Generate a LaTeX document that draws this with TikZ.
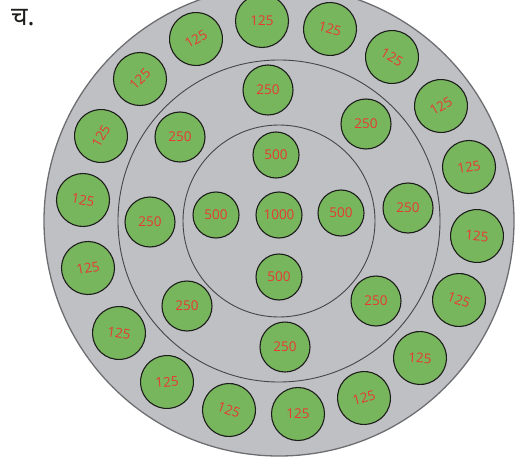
\documentclass[tikz,border=0pt]{standalone}
\usepackage{fontspec}
\setsansfont{Open Sans}
\newfontfamily\devfont[Script=Devanagari]{Noto Sans}
\usetikzlibrary{positioning}
\definecolor{colorplate} {RGB}{191,192,196}
\definecolor{colorrim}   {RGB}{110,110,114}
\definecolor{colorring}  {RGB}{70 ,70 ,74 }
\definecolor{colorcoin}  {RGB}{119,182,92 }
\definecolor{colorvalue} {RGB}{232,58 ,48 }
\definecolor{colortext}  {RGB}{29 ,29 ,27 }

\begin{document}
\begin{tikzpicture}[
    x=1pt, y=-1pt,
    base/.style={circle,draw=colortext,line width=1.1pt,fill=colorcoin,inner sep=0pt,
                 text=colorvalue,font={\sffamily\fontsize{13.5}{13.5}\selectfont}},
    outer/.style={base,minimum size=53pt},
    middle/.style={base,minimum size=50pt},
    inner/.style={base,minimum size=46pt},
    ringline/.style={draw=colorring,line width=0.9pt},
]
    \useasboundingbox (0,0) rectangle (521,465);
    \clip (0,0) rectangle (521,465);

    % Plate and rings
    \coordinate (centre) at (279,221);
    \fill[colorplate] (centre) circle (235pt);
    \draw[colorrim,line width=1.3pt] (centre) circle (235pt);
    \draw[ringline] (centre) circle (161pt);
    \draw[ringline] (centre) circle (96pt);

    % Label
    \node[anchor=base west,inner sep=0pt,text=colortext,font={\devfont\fontsize{26}{26}\selectfont}] (label) at (11,26) {च.};

    % Outer ring
    \node[outer]            (o1)  at (262,21)  {125};
    \node[outer,rotate=-15] (o2)  at (330,29)  {125};
    \node[outer,rotate=-30] (o3)  at (392,57)  {125};
    \node[outer,rotate=30]  (o4)  at (441,106) {125};
    \node[outer,rotate=10]  (o5)  at (469,167) {125};
    \node[outer,rotate=-5]  (o6)  at (477,236) {125};
    \node[outer,rotate=-20] (o7)  at (459,300) {125};
    \node[outer,rotate=-3]  (o8)  at (420,358) {125};
    \node[outer,rotate=15]  (o9)  at (364,398) {125};
    \node[outer]            (o10) at (298,414) {125};
    \node[outer,rotate=-20] (o11) at (229,410) {125};
    \node[outer,rotate=5]   (o12) at (167,382) {125};
    \node[outer,rotate=-8]  (o13) at (119,333) {125};
    \node[outer,rotate=10]  (o14) at (88,268)  {125};
    \node[outer,rotate=-10] (o15) at (83,200)  {125};
    \node[outer,rotate=60]  (o16) at (101,136) {125};
    \node[outer,rotate=45]  (o17) at (140,79)  {125};
    \node[outer,rotate=30]  (o18) at (196,39)  {125};

    % Middle ring
    \node[middle] (m1) at (268,90)  {250};
    \node[middle] (m2) at (366,124) {250};
    \node[middle] (m3) at (408,208) {250};
    \node[middle] (m4) at (376,301) {250};
    \node[middle] (m5) at (285,347) {250};
    \node[middle] (m6) at (187,306) {250};
    \node[middle] (m7) at (150,222) {250};
    \node[middle] (m8) at (180,137) {250};

    % Inner ring
    \node[inner] (i1) at (276,155) {500};
    \node[inner] (i2) at (341,213) {500};
    \node[inner] (i3) at (279,277) {500};
    \node[inner] (i4) at (216,215) {500};

    % Centre
    \node[inner] (hub) at (279,215) {1000};

\end{tikzpicture}
\end{document}
